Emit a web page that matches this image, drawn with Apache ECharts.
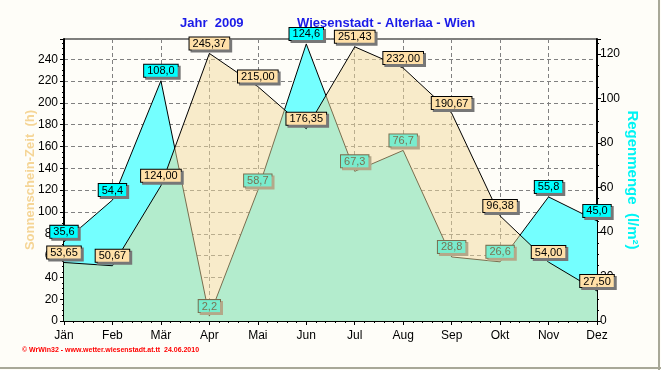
<!DOCTYPE html>
<html>
<head>
<meta charset="utf-8">
<script src="https://cdn.jsdelivr.net/npm/echarts@6/dist/echarts.min.js"></script>
<style>
html,body{margin:0;padding:0;background:#FEFDF8;}
#c{width:661px;height:370px;}
</style>
</head>
<body>
<div id="c"></div>
<script>
var months = ['Jän','Feb','Mär','Apr','Mai','Jun','Jul','Aug','Sep','Okt','Nov','Dez'];
var sunshine = [53.65, 50.67, 124.00, 245.37, 215.00, 176.35, 251.43, 232.00, 190.67, 96.38, 54.00, 27.50];
var rain = [35.6, 54.4, 108.0, 2.2, 58.7, 124.6, 67.3, 76.7, 28.8, 26.6, 55.8, 45.0];
var leftTicks = [0,20,40,60,80,100,120,140,160,180,200,220,240];
var rightTicks = [0,20,40,60,80,100,120];

function pairs(arr){ return arr.map(function(v,i){ return [i,v]; }); }
function fmt(v,d){ return v.toFixed(d).replace('.',','); }

var chart = echarts.init(document.getElementById('c'));
var ff = 'Liberation Sans, Arial';
chart.setOption({
  backgroundColor:'#FEFDF8',
  animation:false,
  title:[
    {text:'Jahr  2009', left:180, top:17, padding:0, textStyle:{color:'#1A1AE8', fontSize:13, fontWeight:'bold', fontFamily:ff}},
    {text:'Wiesenstadt - Alterlaa - Wien', left:297, top:17, padding:0, textStyle:{color:'#1A1AE8', fontSize:13, fontWeight:'bold', fontFamily:ff}}
  ],
  graphic:[
    {type:'text', left:22, top:347, style:{text:'© WrWin32 - www.wetter.wiesenstadt.at.tt  24.06.2010', fill:'#FF0000', font:'bold 7px Liberation Sans'}},
    {type:'line', shape:{x1:0,y1:368,x2:661,y2:368}, style:{stroke:'#A8A898', lineWidth:2}},
    {type:'line', shape:{x1:659,y1:0,x2:659,y2:370}, style:{stroke:'#A8A898', lineWidth:2}}
  ],
  grid:{left:64, right:64, top:39, bottom:49, show:true, borderColor:'#000', borderWidth:1, backgroundColor:'transparent'},
  xAxis:{
    type:'value', min:0, max:11, interval:1,
    axisLine:{lineStyle:{color:'#000', width:2}},
    axisTick:{length:4, lineStyle:{color:'#000'}},
    minorTick:{show:true, splitNumber:5, length:2, lineStyle:{color:'#000'}},
    axisLabel:{margin:9, color:'#000', fontSize:12, fontFamily:ff, formatter:function(v){return months[v];}},
    splitLine:{show:true, lineStyle:{color:'#808080', type:[4,3], width:1}}
  },
  yAxis:[
    {
      type:'value', min:0, max:258.6, interval:20, position:'left',
      name:'Sonnenschein-Zeit  (h)', nameLocation:'middle', nameRotate:90, nameGap:27, nameMoveOverlap:false,
      nameTextStyle:{color:'#F5D596', fontSize:13, fontWeight:'bold', fontFamily:ff},
      axisLine:{show:true, lineStyle:{color:'#000', width:2}},
      axisTick:{length:4, lineStyle:{color:'#000'}},
      minorTick:{show:true, splitNumber:4, length:2, lineStyle:{color:'#000'}},
      axisLabel:{margin:6, color:'#000', fontSize:12, fontFamily:ff, showMaxLabel:false,
        formatter:function(v){return leftTicks.indexOf(v)>=0 ? String(v) : '';}},
      splitLine:{show:true, lineStyle:{color:'#808080', type:[4,3], width:1}}
    },
    {
      type:'value', min:0, max:126.8, interval:20, position:'right',
      name:'Regenmenge  (l/m²)', nameLocation:'middle', nameRotate:-90, nameGap:28, nameMoveOverlap:false,
      nameTextStyle:{color:'#00F4F4', fontSize:15, fontWeight:'bold', fontFamily:ff},
      axisLine:{show:true, lineStyle:{color:'#000', width:2}},
      axisTick:{length:4, lineStyle:{color:'#000'}},
      minorTick:{show:true, splitNumber:4, length:2, lineStyle:{color:'#000'}},
      axisLabel:{margin:3, color:'#000', fontSize:12, fontFamily:ff, showMaxLabel:false,
        formatter:function(v){return rightTicks.indexOf(v)>=0 ? String(v) : '';}},
      splitLine:{show:false}
    }
  ],
  series:[
    {
      name:'Regen', type:'line', yAxisIndex:1, z:2, data:pairs(rain),
      symbol:'circle', symbolSize:0, showSymbol:true,
      lineStyle:{color:'#000', width:1},
      itemStyle:{color:'#000'},
      areaStyle:{color:'#74FFFF', opacity:1},
      label:{show:true, position:'top', distance:4,
        fontFamily:ff, fontSize:11, color:'#000',
        backgroundColor:'#00FFFF', borderColor:'#000', borderWidth:1, padding:[1,3,0,3],
        shadowColor:'#777', shadowOffsetX:2, shadowOffsetY:2, shadowBlur:0,
        formatter:function(p){return fmt(p.value[1],1);}}
    },
    {
      name:'Sonne', type:'line', yAxisIndex:0, z:3, data:pairs(sunshine),
      symbol:'circle', symbolSize:0, showSymbol:true,
      lineStyle:{color:'#000', width:1},
      itemStyle:{color:'#000'},
      areaStyle:{color:'rgba(241,218,155,0.5)', opacity:1},
      label:{show:true, position:'top', distance:4,
        fontFamily:ff, fontSize:11, color:'#000',
        backgroundColor:'#FFE0A8', borderColor:'#000', borderWidth:1, padding:[1,3,0,3],
        shadowColor:'#777', shadowOffsetX:2, shadowOffsetY:2, shadowBlur:0,
        formatter:function(p){return fmt(p.value[1],2);}}
    }
  ]
});
</script>
</body>
</html>
